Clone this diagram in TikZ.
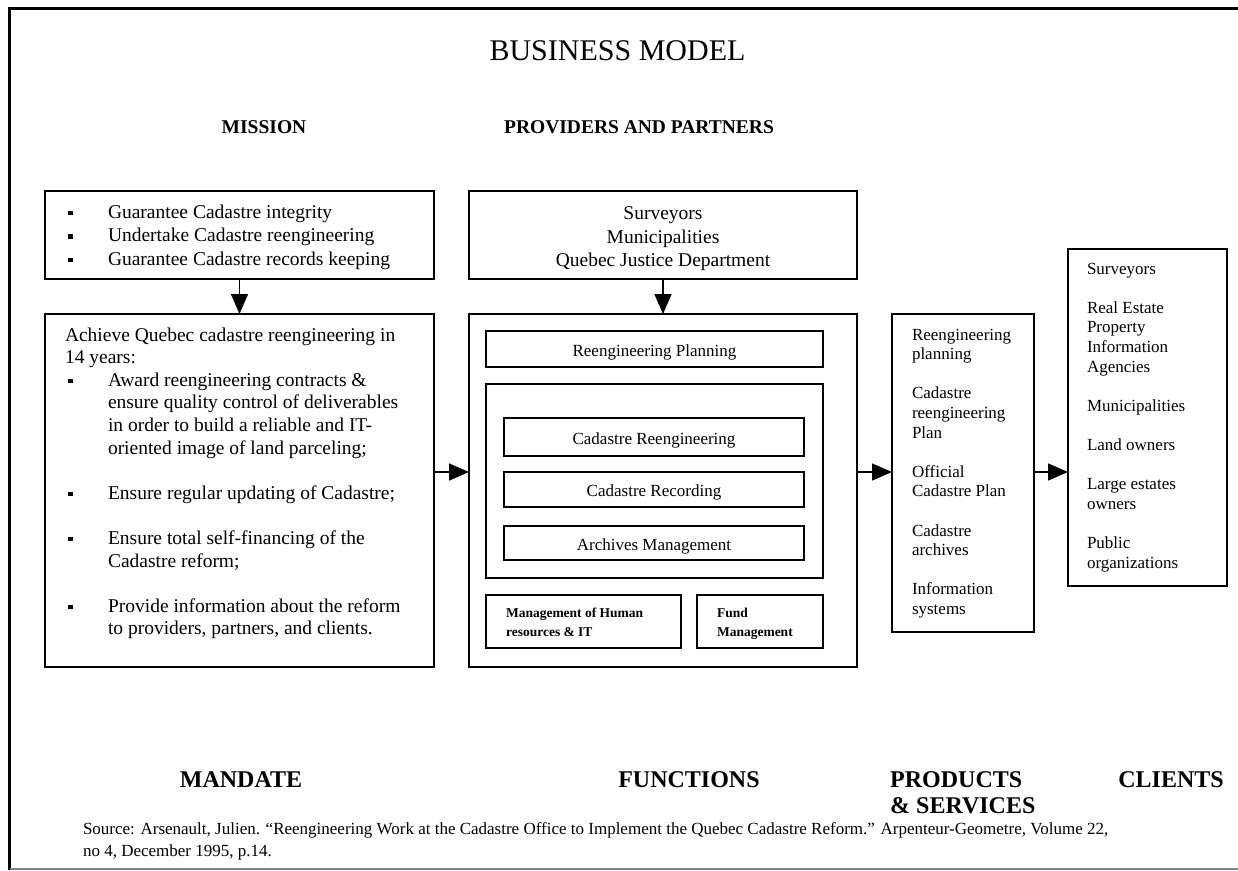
\documentclass[tikz,border=0pt]{standalone}
\usepackage{fontspec}
\setmainfont{Liberation Serif}
\usetikzlibrary{arrows.meta,fit}
\newcommand{\bul}{\makebox[43pt][l]{\hspace*{3pt}\rule[3pt]{4.5pt}{4.5pt}}}
\newcommand{\ind}{\hspace*{43pt}}
\begin{document}
\begin{tikzpicture}[x=1pt,y=-1pt,
  box/.style={draw, line width=1.5pt, inner sep=0pt, outer sep=0pt},
  arr/.style={line width=1.5pt, -{Triangle[length=20pt,width=17pt]}},
  txt/.style={inner sep=0pt, outer sep=0pt, align=left, anchor=north west},
  ctxt/.style={inner sep=0pt, outer sep=0pt, align=center},
  bigtxt/.style={font=\fontsize{19.5}{23.6}\selectfont},
  midtxt/.style={font=\fontsize{17}{19.6}\selectfont},
  smalltxt/.style={font=\bfseries\fontsize{13.5}{19}\selectfont},
  head/.style={inner sep=0pt, font=\bfseries\fontsize{19.5}{22}\selectfont},
  foot/.style={inner sep=0pt, font=\bfseries\fontsize{24}{26}\selectfont}]
\useasboundingbox (0,0) rectangle (1238,870);
% frame
\draw[line width=3pt] (1238,8) -- (9.5,8) -- (9.5,870);
\draw[line width=1.5pt, gray] (9.5,869) -- (1238,869);

% headings
\node[inner sep=0pt, font=\fontsize{30}{32}\selectfont] (title) at (617.5,51) {BUSINESS MODEL};
\node[head] (mission-h) at (264,127) {MISSION};
\node[head] (providers-h) at (639,127) {PROVIDERS AND PARTNERS};

% boxes
\node[box, fit={(45,191) (434,279)}] (mission) {};
\node[box, fit={(45,314) (434,667)}] (mandate) {};
\node[box, fit={(469,191) (857,279)}] (providers) {};
\node[box, fit={(469,314) (857,667)}] (functions) {};
\node[box, fit={(486,331) (823,367)}] (planning) {};
\node[box, fit={(486,384) (823,578)}] (core) {};
\node[box, fit={(504,418) (804,456)}] (reeng) {};
\node[box, fit={(504,472) (804,507)}] (recording) {};
\node[box, fit={(504,526) (804,560)}] (archives) {};
\node[box, fit={(486,595) (681,648)}] (hr) {};
\node[box, fit={(697,595) (823,648)}] (fund) {};
\node[box, fit={(892,314) (1034,632)}] (products) {};
\node[box, fit={(1068,249) (1227,586)}] (clients) {};

% centred texts
\node[ctxt, bigtxt] (providers-t) at ([yshift=-4pt]providers.center) {Surveyors\\Municipalities\\Quebec Justice Department};
\node[ctxt, midtxt] (planning-t) at ([yshift=-3pt]planning.center) {Reengineering Planning};
\node[ctxt, midtxt] (reeng-t) at ([yshift=-3pt]reeng.center) {Cadastre Reengineering};
\node[ctxt, midtxt] (recording-t) at ([yshift=-3pt]recording.center) {Cadastre Recording};
\node[ctxt, midtxt] (archives-t) at ([yshift=-3pt]archives.center) {Archives Management};

% left-aligned texts
\node[txt, bigtxt] (mission-t) at (65,202) {\rule{0pt}{16pt}\bul Guarantee Cadastre integrity\\
\bul Undertake Cadastre reengineering\\
\bul Guarantee Cadastre records keeping};
\node[txt, font=\fontsize{19.5}{22.6}\selectfont] (mandate-t) at (65,325) {\rule{0pt}{16pt}Achieve Quebec cadastre reengineering in\\
14 years:\\
\bul Award reengineering contracts \&\\
\ind ensure quality control of deliverables\\
\ind in order to build a reliable and IT-\\
\ind oriented image of land parceling;\\[22.6pt]
\bul Ensure regular updating of Cadastre;\\[22.6pt]
\bul Ensure total self-financing of the\\
\ind Cadastre reform;\\[22.6pt]
\bul Provide information about the reform\\
\ind to providers, partners, and clients.};
\node[txt, smalltxt] (hr-t) at (506,606) {\rule{0pt}{11pt}Management of Human\\resources \& IT};
\node[txt, smalltxt] (fund-t) at (717,606) {\rule{0pt}{11pt}Fund\\Management};
\node[txt, midtxt] (products-t) at (912,326) {\rule{0pt}{14pt}Reengineering\\planning\\[19.6pt]
Cadastre\\reengineering\\Plan\\[19.6pt]
Official\\Cadastre Plan\\[19.6pt]
Cadastre\\archives\\[19.6pt]
Information\\systems};
\node[txt, midtxt] (clients-t) at (1087,260) {\rule{0pt}{14pt}Surveyors\\[19.6pt]
Real Estate\\Property\\Information\\Agencies\\[19.6pt]
Municipalities\\[19.6pt]
Land owners\\[19.6pt]
Large estates\\owners\\[19.6pt]
Public\\organizations};

% arrows
\coordinate (row) at (0,472);
\draw[arr] (mission) -- (mandate);
\draw[arr] (providers) -- (functions);
\draw[arr] (mandate.east |- row) -- (functions.west |- row);
\draw[arr] (functions.east |- row) -- (products.west |- row);
\draw[arr] (products.east |- row) -- (clients.west |- row);

% footer labels
\node[foot] (mandate-l) at (241,780) {MANDATE};
\node[foot] (functions-l) at (689,780) {FUNCTIONS};
\node[foot, anchor=west] (products-l) at (890,780) {PRODUCTS};
\node[foot, anchor=west] (services-l) at (890,806) {\& SERVICES};
\node[foot] (clients-l) at (1171,780) {CLIENTS};
\node[txt, font=\fontsize{17}{22}\selectfont] (source) at (83,820) {\rule{0pt}{14pt}Source: Arsenault, Julien. “Reengineering Work at the Cadastre Office to Implement the Quebec Cadastre Reform.” Arpenteur-Geometre, Volume 22,\\
no 4, December 1995, p.14.};
\end{tikzpicture}
\end{document}
